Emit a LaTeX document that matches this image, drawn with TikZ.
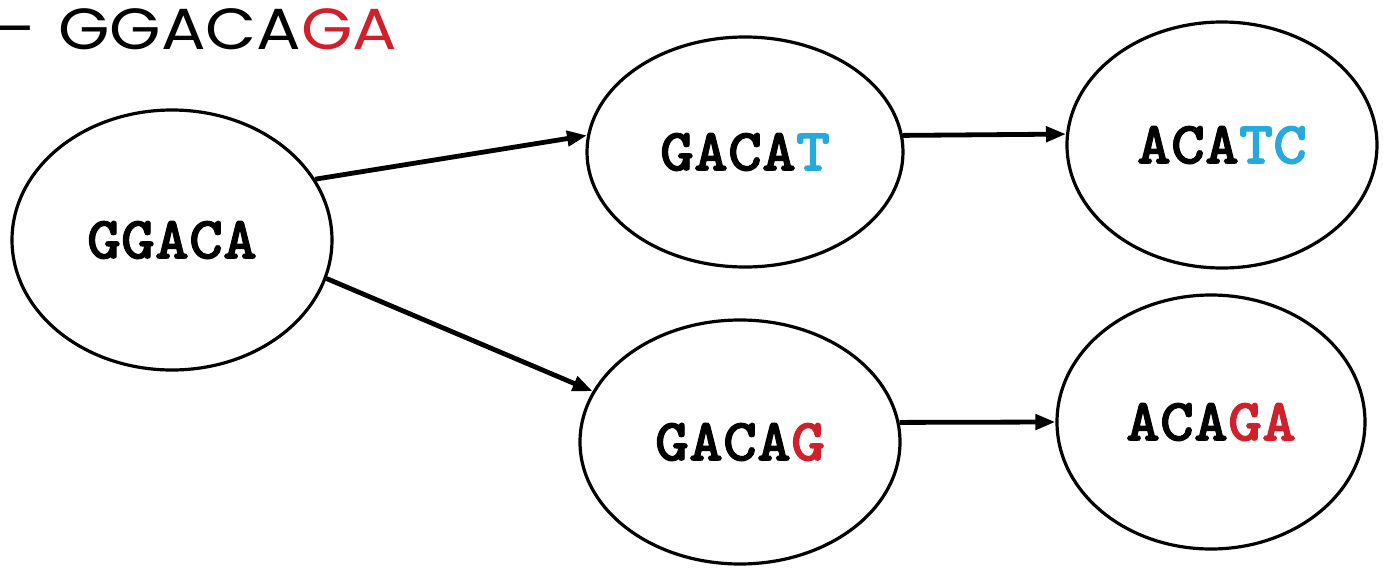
\documentclass[tikz,border=0pt]{standalone}
\usepackage{fontspec}
\setmainfont{Liberation Sans}
\newfontfamily\monob{Latin Modern Mono Light}[BoldFeatures={FakeBold=1.6}, FakeStretch=1.08]
\newfontfamily\titlefont{Poppins}
\usetikzlibrary{shapes.geometric,arrows.meta}
\definecolor{dnared}{RGB}{208,32,44}
\definecolor{dnacyan}{RGB}{38,170,222}
\tikzset{
  kmer/.style={draw=black, line width=1.6pt, ellipse, inner sep=0pt,
    font=\monob\bfseries\fontsize{30}{32}\selectfont},
  edge/.style={line width=2.4pt, -{Triangle[length=10pt,width=7.5pt]}},
}
\begin{document}
\begin{tikzpicture}[x=0.5pt,y=-0.5pt]
\useasboundingbox (0,0) rectangle (1383,568);
\node[kmer, minimum width=320*0.5pt, minimum height=260*0.5pt] (ggaca) at (172,240) {GGACA};
\node[kmer, minimum width=316*0.5pt, minimum height=230*0.5pt] (gacat) at (745,152) {GACA\textcolor{dnacyan}{T}};
\node[kmer, minimum width=310*0.5pt, minimum height=246*0.5pt] (acatc) at (1222,145) {ACA\textcolor{dnacyan}{TC}};
\node[kmer, minimum width=320*0.5pt, minimum height=244*0.5pt] (gacag) at (740,442) {GACA\textcolor{dnared}{G}};
\node[kmer, minimum width=308*0.5pt, minimum height=254*0.5pt] (acaga) at (1211,422) {ACA\textcolor{dnared}{GA}};
\node[anchor=east, inner sep=0pt, xscale=1.14, font=\titlefont\fontsize{29}{32}\selectfont] (title) at (398,29) {–\hspace{0.35em}GGACA\textcolor{dnared}{GA}};
\draw[edge] (ggaca.23) -- (gacat.174);
\draw[edge] (ggaca.-14) -- (gacag.161);
\draw[edge] (gacat.6) -- (acatc.176);
\draw[edge] (gacag.7) -- (acaga.180);
\end{tikzpicture}
\end{document}
